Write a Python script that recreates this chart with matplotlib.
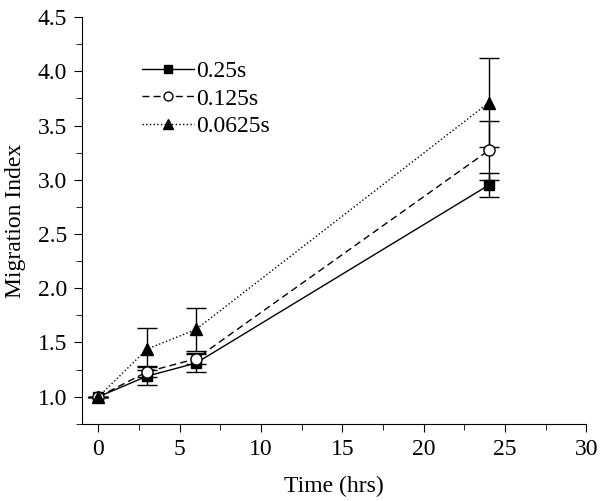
import numpy as np
import matplotlib
matplotlib.use('Agg')
import matplotlib.pyplot as plt
from matplotlib.ticker import MultipleLocator

plt.rcParams['font.family'] = ['Liberation Serif', 'FreeSerif', 'DejaVu Serif']

# ── Datos ────────────────────────────────────────────────────────────────
time_hrs = [0, 3, 6, 24]

mi_025   = [1.00, 1.19, 1.31, 2.95]
err_025  = [0.00, 0.08, 0.08, 0.11]

mi_0125  = [1.00, 1.23, 1.35, 3.27]
err_0125 = [0.00, 0.05, 0.05, 0.27]

mi_00625  = [1.00, 1.44, 1.62, 3.71]
err_00625 = [0.00, 0.19, 0.20, 0.41]

labels = ['0.25s', '0.125s', '0.0625s']

fig = plt.figure(figsize=(6.0, 5.01), dpi=100)
ax = fig.add_axes([0.137, 0.154, 0.840, 0.812])

common = dict(color='black', ecolor='black', elinewidth=1.0, capsize=7,
              capthick=1.0, lw=1.0)
ax.errorbar(time_hrs, mi_025, yerr=err_025, fmt='-s', ms=7,
            mfc='black', label=labels[0], **common)
ax.errorbar(time_hrs, mi_0125, yerr=err_0125, fmt='--o', ms=8,
            mfc='white', label=labels[1], dashes=(5, 3), **common)
ax.errorbar(time_hrs, mi_00625, yerr=err_00625, fmt=':^', ms=9,
            mfc='black', label=labels[2], **common)

ax.set_xlim(-1, 30)
ax.set_ylim(0.75, 4.5)
ax.xaxis.set_major_locator(MultipleLocator(5))
ax.xaxis.set_minor_locator(MultipleLocator(2.5))
ax.yaxis.set_major_locator(MultipleLocator(0.5))
ax.yaxis.set_minor_locator(MultipleLocator(0.25))
ax.yaxis.set_major_formatter(matplotlib.ticker.FormatStrFormatter('%.1f'))

ax.spines['top'].set_visible(False)
ax.spines['right'].set_visible(False)
ax.tick_params(which='both', direction='out', labelsize=17)
ax.tick_params(which='major', length=6, pad=5)
ax.tick_params(which='minor', length=4)

ax.set_xlabel('Time (hrs)', fontsize=17, labelpad=11)
ax.set_ylabel('Migration Index', fontsize=17, labelpad=8)

handles, labs = ax.get_legend_handles_labels()
handles = [h[0] for h in handles]
ax.legend(handles, labs, loc='upper left', bbox_to_anchor=(0.076, 0.945),
          frameon=False, fontsize=17, handlelength=2.2, handletextpad=0.1,
          labelspacing=0.25, markerscale=0.8)

fig.savefig('out.png', dpi=100)
